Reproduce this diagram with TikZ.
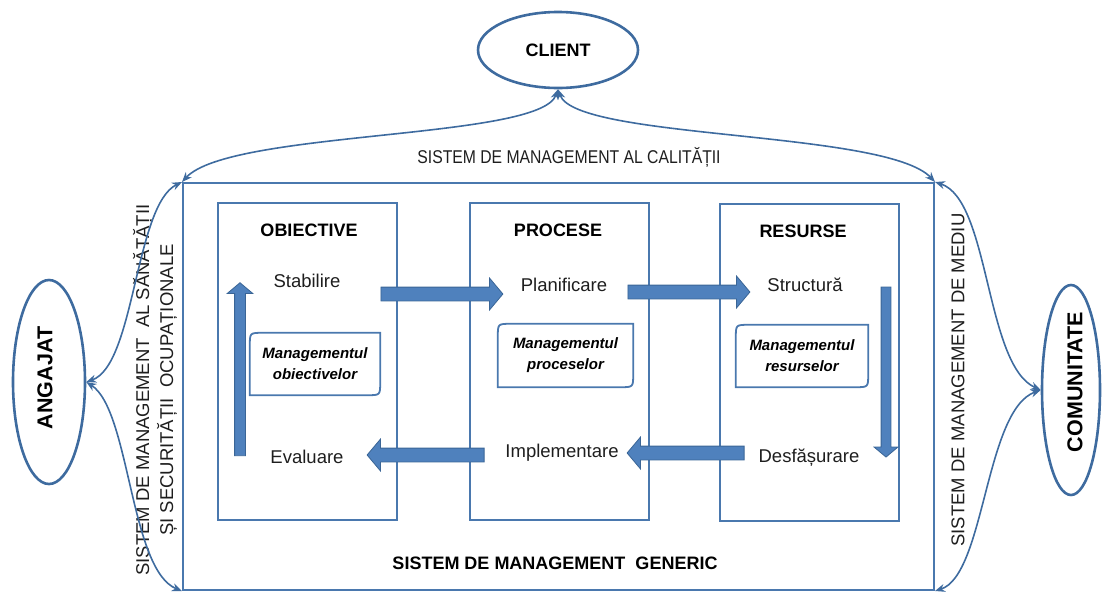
\documentclass[tikz,border=0pt]{standalone}
\usepackage{fontspec}
\setmainfont{Liberation Sans}
\usetikzlibrary{arrows.meta, shapes.geometric, shapes.arrows}

\definecolor{frameblue}{HTML}{4A78AE}
\definecolor{linkblue}{HTML}{3E6B9F}
\definecolor{arrowfill}{HTML}{4F81BD}
\definecolor{arrowline}{HTML}{3A6596}
\definecolor{inkgrey}{HTML}{1E1E1E}

\tikzset{
  party/.style={ellipse, draw=linkblue, line width=2.6pt, inner sep=0pt},
  partytext/.style={rotate=90, font=\fontsize{21.5}{24}\selectfont\bfseries},
  panel/.style={draw=frameblue, line width=2.2pt, minimum width=179, minimum height=317, inner sep=0pt},
  heading/.style={font=\fontsize{18}{20}\selectfont\bfseries, text height=13pt, text depth=0pt},
  stage/.style={font=\fontsize{18.5}{21}\selectfont, text=inkgrey, text height=13.5pt, text depth=4pt},
  mgmt/.style={minimum width=130, minimum height=62, inner sep=0pt, align=center, font=\fontsize{15}{21}\selectfont\bfseries\itshape},
  mgmtline/.style={draw=frameblue, line width=1.8pt},
  blockarrow/.style={single arrow, draw=arrowline, fill=arrowfill, line width=0.8pt, inner xsep=0pt, inner ysep=6.5pt, single arrow head extend=9, single arrow tip angle=100},
  link/.style={draw=linkblue, line width=1.6pt, <->},
  sidetext/.style={font=\fontsize{18.5}{24}\selectfont, text=inkgrey, align=center, rotate=90}
}

\begin{document}
\begin{tikzpicture}[x=1pt, y=-1pt, >={Stealth[length=10pt, width=8pt]}]
  \useasboundingbox (0,0) rectangle (1102,592);
  % frame of the generic system and the three parties
  \node[draw=frameblue, line width=2pt, minimum width=751, minimum height=407, inner sep=0pt] (gen) at (558.5,386.5) {};
  \node[party, minimum width=160, minimum height=76, font=\fontsize{18}{20}\selectfont\bfseries] (client) at (558,50) {CLIENT};
  \node[party, minimum width=72, minimum height=204] (ang) at (49,382) {};
  \node[partytext] (angtxt) at (45,378) {ANGAJAT};
  \node[party, minimum width=58, minimum height=210] (com) at (1071,390) {};
  \node[partytext] (comtxt) at (1075,382) {COMUNITATE};

  % system labels
  \node[font=\fontsize{18.5}{21}\selectfont, text=inkgrey] (qual) at (569,157) {\scalebox{0.85}[1]{SISTEM DE MANAGEMENT AL CALITĂȚII}};
  \node[sidetext] (ohs) at (155,390) {SISTEM DE MANAGEMENT\ \ AL SĂNĂTĂȚII\\ȘI SECURITĂȚII\ \ OCUPAȚIONALE};
  \node[sidetext] (env) at (958,380) {SISTEM DE MANAGEMENT DE MEDIU};
  \node[font=\fontsize{18}{20}\selectfont\bfseries] (gentxt) at (555,563) {SISTEM DE MANAGEMENT\ \ GENERIC};

  % the three panels
  \node[panel] (obj) at (307.5,361.5) {};
  \node[panel] (proc) at (559.5,361.5) {};
  \node[panel] (res) at (809.5,362.5) {};
  \node[heading] (objt) at (309,230) {OBIECTIVE};
  \node[heading] (proct) at (558,230) {PROCESE};
  \node[heading] (rest) at (803,231) {RESURSE};

  \node[stage] (stab) at (307,283) {Stabilire};
  \node[stage] (eval) at (307,459) {Evaluare};
  \node[stage] (plan) at (564,287) {Planificare};
  \node[stage] (impl) at (562,453) {Implementare};
  \node[stage] (struct) at (805,287) {Structură};
  \node[stage] (desf) at (809,458) {Desfășurare};

  % management boxes, two corners rounded
  \node[mgmt] (mob) at (315,364) {Managementul\\obiectivelor};
  \node[mgmt, minimum width=135, minimum height=63] (mpr) at (565.5,355.5) {Managementul\\proceselor};
  \node[mgmt, minimum width=132] (mre) at (802,356) {Managementul\\resurselor};
  \foreach \m in {mob, mpr, mre}
    \draw[mgmtline] (\m.north east) -- ([xshift=13pt]\m.north west) .. controls (\m.north west) .. ([yshift=-13pt]\m.north west)
      -- (\m.south west) -- ([xshift=-13pt]\m.south east) .. controls (\m.south east) .. ([yshift=13pt]\m.south east) -- cycle;

  % block arrows of the cycle
  \node[blockarrow, minimum height=122] (a1) at (439,294) {};
  \node[blockarrow, minimum height=122] (a2) at (686,292) {};
  \node[blockarrow, minimum height=117, rotate=180] (a3) at (688.5,453) {};
  \node[blockarrow, minimum height=117, rotate=180] (a4) at (428.5,455) {};
  \node[blockarrow, minimum height=173, inner ysep=5pt, single arrow head extend=7.5, rotate=90] (a5) at (240,371.5) {};
  \node[blockarrow, minimum height=170, inner ysep=4.5pt, single arrow head extend=7, rotate=-90] (a6) at (886,370) {};

  % links to the parties
  \draw[link] (gen.north west) .. controls (230,130) and (540,140) .. (client.south);
  \draw[link] (gen.north east) .. controls (886,130) and (576,140) .. (client.south);
  \draw[link] (gen.north west) .. controls (135,205) and (135,365) .. (ang.east);
  \draw[link] (gen.south west) .. controls (130,570) and (130,410) .. (ang.east);
  \draw[link] (gen.north east) .. controls (990,200) and (985,365) .. (com.west);
  \draw[link] (gen.south east) .. controls (985,575) and (985,410) .. (com.west);
\end{tikzpicture}
\end{document}
